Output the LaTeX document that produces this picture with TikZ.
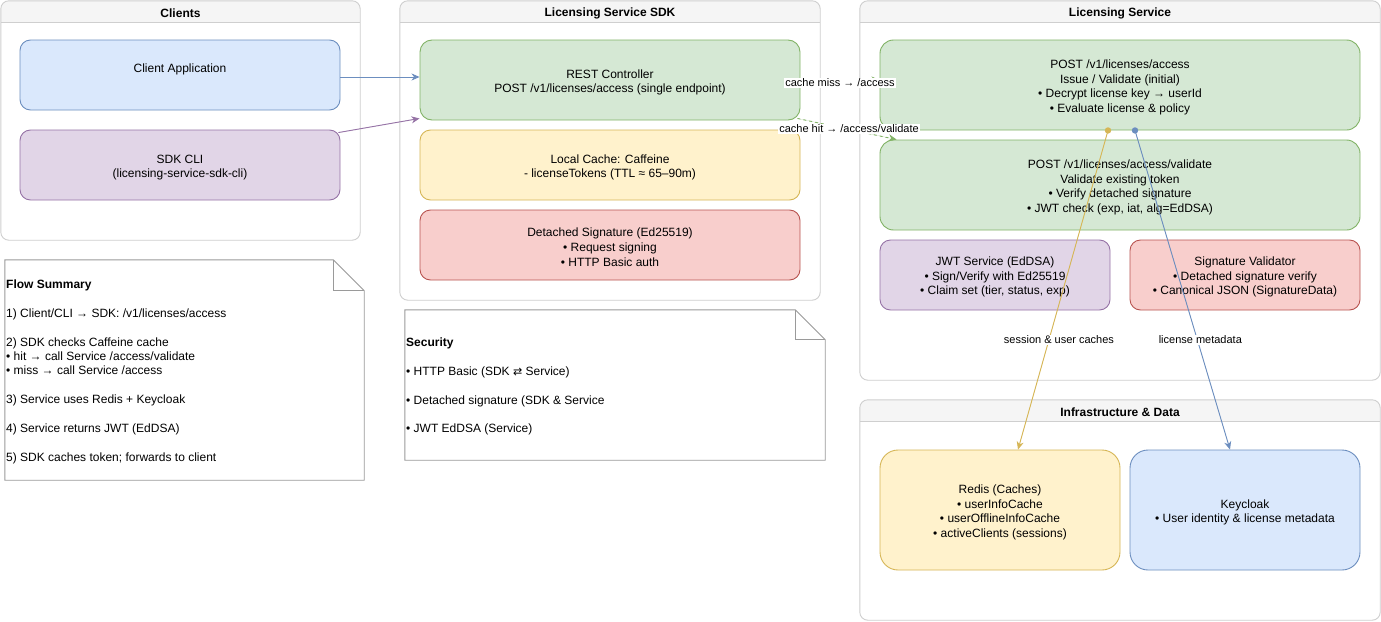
\documentclass[tikz,border=0pt]{standalone}
\usepackage{fontspec}
\setmainfont{Liberation Sans}
\newfontfamily\djv{DejaVu Sans}
\usetikzlibrary{arrows.meta}
\definecolor{bfill}{HTML}{DAE8FC}\definecolor{bline}{HTML}{6C8EBF}
\definecolor{pfill}{HTML}{E1D5E7}\definecolor{pline}{HTML}{9673A6}
\definecolor{gfill}{HTML}{D5E8D4}\definecolor{gline}{HTML}{82B366}
\definecolor{yfill}{HTML}{FFF2CC}\definecolor{yline}{HTML}{D6B656}
\definecolor{rfill}{HTML}{F8CECC}\definecolor{rline}{HTML}{B85450}
\definecolor{cline}{HTML}{CFCFCF}\definecolor{hfill}{HTML}{F5F5F5}
\definecolor{nline}{HTML}{9A9A9A}
\newcommand\fs{\fontsize{12pt}{14.6pt}\selectfont}
\newcommand\fn{\fontsize{12pt}{14.4pt}\selectfont}
\newcommand\fl{\fontsize{11pt}{13pt}\selectfont}
\newcommand\skipl{\\[14.4pt]}
\newcommand\tup{\rule{0pt}{13.2pt}}
\tikzset{
  cont/.style={rectangle, rounded corners=8pt, fill=white, draw=none},
  contline/.style={draw=cline, line width=0.9pt},
  ttl/.style={font=\fs\bfseries, inner sep=0pt},
  sbox/.style={rectangle, line width=0.9pt, align=center, font=\fs, inner sep=0pt},
  bluebox/.style={sbox, fill=bfill, draw=bline},
  purplebox/.style={sbox, fill=pfill, draw=pline},
  greenbox/.style={sbox, fill=gfill, draw=gline},
  yellowbox/.style={sbox, fill=yfill, draw=yline},
  redbox/.style={sbox, fill=rfill, draw=rline},
  noteline/.style={draw=nline, line width=0.9pt},
  notetext/.style={align=left, font=\fn, inner sep=0pt, anchor=north west},
  arr/.style={line width=0.9pt, -{Stealth[length=8pt,width=7pt,inset=2.5pt]}},
  lbl/.style={font=\fl, fill=white, inner sep=1pt},
}
\newcommand\mkcont[6]{%
  \node[cont, minimum width=#4pt, minimum height=#5pt] (#1) at (#2,#3) {};
  \begin{scope}
    \clip[rounded corners=8pt] (#1.south west) rectangle (#1.north east);
    \fill[hfill] (#1.north west) rectangle ([yshift=-22pt]#1.north east);
  \end{scope}
  \draw[contline] ([yshift=-22pt]#1.north west) -- ([yshift=-22pt]#1.north east);
  \draw[contline, rounded corners=8pt] (#1.south west) rectangle (#1.north east);
  \node[ttl] (#1-t) at ([yshift=-12.5pt]#1.north) {#6};
}
\begin{document}
\begin{tikzpicture}[x=1pt, y=-1pt]
\fill[white] (0,0) rectangle (1381,621);
\useasboundingbox (0,0) rectangle (1381,621);

% containers
\mkcont{clients}{180.5}{120.5}{359}{239}{Clients}
\mkcont{sdk}{610}{150.5}{420}{299}{Licensing Service SDK}
\mkcont{svc}{1120}{190.5}{520}{379}{Licensing Service}
\mkcont{infra}{1120}{510}{520}{220}{Infrastructure \& Data}

% notes
\node[minimum width=359pt, minimum height=220pt, inner sep=0pt] (flow) at (184.5,370) {};
\draw[noteline, fill=white] (flow.north west) -- ([xshift=-31pt]flow.north east) -- ([yshift=-31pt]flow.north east) -- (flow.south east) -- (flow.south west) -- cycle;
\draw[noteline] ([xshift=-31pt]flow.north east) -- ([xshift=-31pt,yshift=-31pt]flow.north east) -- ([yshift=-31pt]flow.north east);
\node[notetext] (flowtxt) at (6,279.5) {\textbf{Flow Summary}\skipl
1) Client/CLI → SDK: /v1/licenses/access\skipl
2) SDK checks Caffeine cache\\
• hit → call Service /access/validate\\
• miss → call Service /access\skipl
3) Service uses Redis + Keycloak\skipl
4) Service returns JWT (EdDSA)\skipl
5) SDK caches token; forwards to client};

\node[minimum width=420pt, minimum height=150pt, inner sep=0pt] (sec) at (615,385) {};
\draw[noteline, fill=white] (sec.north west) -- ([xshift=-30pt]sec.north east) -- ([yshift=-30pt]sec.north east) -- (sec.south east) -- (sec.south west) -- cycle;
\draw[noteline] ([xshift=-30pt]sec.north east) -- ([xshift=-30pt,yshift=-30pt]sec.north east) -- ([yshift=-30pt]sec.north east);
\node[notetext] (sectxt) at (406,337.5) {\textbf{Security}\skipl
• HTTP Basic (SDK {\djv\fontsize{11pt}{14.4pt}\selectfont ⇄} Service)\skipl
• Detached signature (SDK \& Service\skipl
• JWT EdDSA (Service)};

% client boxes
\node[bluebox, rounded corners=10.5pt, minimum width=320pt, minimum height=70pt] (capp) at (180,75) {Client Application\\\mbox{}};
\node[purplebox, rounded corners=10.5pt, minimum width=320pt, minimum height=70pt] (cli) at (180,165) {\tup SDK CLI\\(licensing-service-sdk-cli)};

% sdk boxes
\node[greenbox, rounded corners=12pt, minimum width=380pt, minimum height=80pt] (rest) at (610,80) {\tup REST Controller\\POST /v1/licenses/access (single endpoint)};
\node[yellowbox, rounded corners=10.5pt, minimum width=380pt, minimum height=70pt] (cache) at (610,165) {\tup Local Cache: Caffeine\\- licenseTokens (TTL ≈ 65–90m)};
\node[redbox, rounded corners=10.5pt, minimum width=380pt, minimum height=70pt] (dsig) at (610,245) {\tup Detached Signature (Ed25519)\\• Request signing\\• HTTP Basic auth};

% service boxes
\node[greenbox, rounded corners=13.5pt, minimum width=480pt, minimum height=90pt] (acc) at (1120,85) {\tup POST /v1/licenses/access\\Issue / Validate (initial)\\• Decrypt license key → userId\\• Evaluate license \& policy};
\node[greenbox, rounded corners=13.5pt, minimum width=480pt, minimum height=90pt] (val) at (1120,185) {\tup POST /v1/licenses/access/validate\\Validate existing token\\• Verify detached signature\\• JWT check (exp, iat, alg=EdDSA)};
\node[purplebox, rounded corners=10.5pt, minimum width=230pt, minimum height=70pt] (jwt) at (995,275) {\tup JWT Service (EdDSA)\\• Sign/Verify with Ed25519\\• Claim set (tier, status, exp)};
\node[redbox, rounded corners=10.5pt, minimum width=230pt, minimum height=70pt] (sigv) at (1245,275) {\tup Signature Validator\\• Detached signature verify\\• Canonical JSON (SignatureData)};

% infra boxes
\node[yellowbox, rounded corners=18pt, minimum width=240pt, minimum height=120pt] (redis) at (1000,510) {\tup Redis (Caches)\\• userInfoCache\\• userOfflineInfoCache\\• activeClients (sessions)};
\node[bluebox, rounded corners=18pt, minimum width=230pt, minimum height=120pt] (kc) at (1245,510) {\tup Keycloak\\• User identity \& license metadata};

% edges
\draw[arr, draw=bline, fill=bline] ([yshift=-2pt]capp.east) -- ([yshift=-2pt]capp.east -| rest.west);
\draw[arr, draw=pline, fill=pline] ([xshift=-2pt,yshift=-3pt]cli.north east) -- ([yshift=2pt]rest.south west);
\draw[arr, draw=gline, fill=gline] (rest.east) -- (rest.east -| acc.west) node[lbl, midway, yshift=-3pt] (missl) {cache miss → /access};
\draw[arr, draw=gline, fill=gline, dash pattern=on 3pt off 3pt] ([xshift=-3pt,yshift=2pt]rest.south east) -- ([xshift=17pt]val.north west) node[lbl, pos=0.5, xshift=2pt] (hitl) {cache hit → /access/validate};

\coordinate (ys) at ([xshift=-12pt]acc.south);
\coordinate (bs) at ([xshift=15pt]acc.south);
\draw[arr, draw=yline, fill=yline] (ys) -- ([xshift=18pt]redis.north) node[lbl, pos=0.656, xshift=10pt] (sessl) {session \& user caches};
\draw[arr, draw=bline, fill=bline] (bs) -- ([xshift=-15pt]kc.north) node[lbl, pos=0.656, xshift=3pt] (licl) {license metadata};
\fill[yline] (ys) circle (3.2pt);
\fill[bline] (bs) circle (3.2pt);
\end{tikzpicture}
\end{document}
